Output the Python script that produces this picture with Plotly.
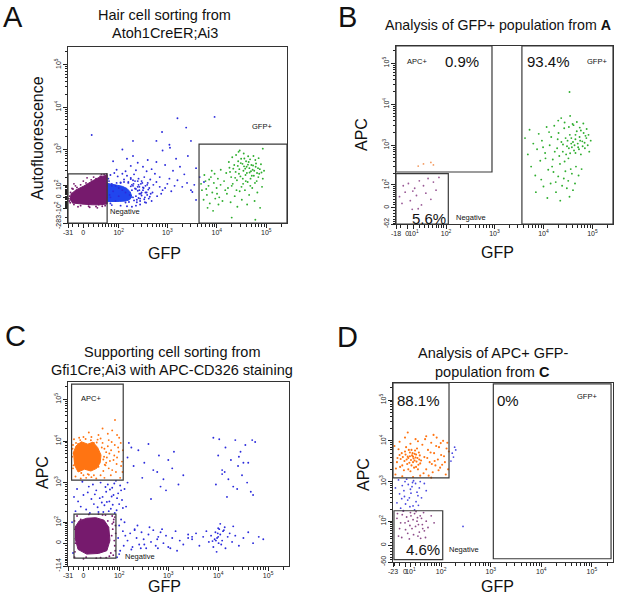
import numpy as np
import plotly.graph_objects as go

W, H = 617, 595
TOP = 262144  # top of the cytometer scale (2^18)

# ---------------- Panel A: hair cell sorting (GFP vs autofluorescence) ----------------
a_gate_neg_gfp = [-31, 54]
a_gate_neg_af = [-283, 246]
a_gate_pos_gfp = [4370, TOP]
a_gate_pos_af = [-283, 1350]

a_purple_core_gfp = [-26, -24, -14, 1, 17, 34, 54, 54, 34, 17, -4, -22]
a_purple_core_af = [-21, 28, 62, 98, 151, 202, 230, -55, -62, -62, -55, -46]
a_purple_gfp = [-28, -27, -25, -20, -12, -5, 5, 15, 25, 35, 45, 52, 48, 40, 25, 10, -5, -18, -26, -29,
                0, 10, 30, 20, -15, -8, 50, 53, 53, -22, 38, 12, -10, 28, 44, 7, -18, -24, 31]
a_purple_af = [-30, 10, 40, 70, 85, 110, 130, 165, 180, 210, 240, 245, -70, -75, -78, -75, -70, -60, -45, -10,
               150, 95, 150, 200, 100, 40, 180, 100, 0, 75, 235, -85, -80, -90, 150, 190, 120, -20, -60]

a_blue_core_gfp = [54, 70, 95, 120, 150, 175, 190, 170, 140, 105, 75, 54]
a_blue_core_af = [125, 118, 105, 95, 75, 45, 5, -20, -30, -33, -35, -35]
a_blue_gfp = [65, 80, 95, 120, 150, 180, 210, 260, 300, 340, 400, 450, 520, 600, 700, 800, 500, 420, 350, 280,
              230, 190, 150, 110, 70, 620, 750, 900, 1000, 1200, 1400, 560, 380, 230, 140, 90, 700, 480, 320, 180,
              1100, 1600, 2000, 2500, 3000, 3500, 2200, 1800, 1300, 900, 600, 400, 250, 1500, 2600, 800, 1100, 3000,
              4500, 5500, 3800, 9000, 1600, 200, 780, 1130, 3200, 3800, 200, 150, 120, 75,
              60, 70, 85, 100, 120, 140, 170, 200, 240, 270, 320, 360, 390, 430, 480, 110, 130, 160, 190, 220,
              250, 290, 75, 65, 85, 100, 16, 2400, 600,
              260, 300, 330, 280, 250, 310, 350, 230, 270, 380, 200, 180, 65, 70, 58, 62,
              210, 230, 250, 270, 290, 240, 220, 260, 200, 190, 300, 280, 320, 360, 340, 410, 440, 390, 370, 460,
              160, 180, 130, 110, 90, 140, 165, 205]
a_blue_af = [230, 260, 210, 250, 220, 190, 240, 180, 150, 200, 130, 170, 110, 140, 90, 60, 40, -10, -40, -60,
             -70, -80, -75, -70, -65, 10, 30, 80, 120, 50, 100, 250, 290, 310, 290, 320, 200, 330, 380, 400,
             180, 160, 90, 130, 60, 110, 240, 380, 300, 420, 500, 560, 480, 600, 700, 950, 1300, 1600,
             200, 140, 350, 5900, 5500, 1600, 2600, 1100, 44, -21, 700, 600, 1000, 520,
             150, 120, 100, 80, 60, 40, 20, 0, -20, 30, 60, 100, 20, 80, -30, 130, 170, 140, 110, 150,
             90, 120, 50, 0, -30, 10, 2200, 3300, 1600,
             110, 40, 80, -10, 150, 130, 0, 70, 60, 40, 160, 175, -50, 100, 180, 20,
             -25, 10, 55, 90, 30, -40, 75, -5, 100, 60, 15, -30, 85, 40, -15, 65, 5, 110, -45, 30,
             130, 95, 140, 135, 130, -42, -38, 120]

a_green_gfp = [5000, 5400, 5900, 6300, 6800, 7200, 7600, 8100, 8700, 9300, 9900, 10500, 11200, 11900, 5600, 6500,
               7900, 9000, 10800, 12000, 4800, 6100, 8400, 10100, 7000,
               14000, 15500, 16800, 18000, 19500, 21000, 22500, 24000, 25500, 27000, 28500, 30000, 31500, 33000,
               34500, 36000, 38000, 40000, 42000, 44000, 46000, 48000, 50000, 53000, 56000, 60000, 64000, 68000,
               72000, 78000, 85000, 90000,
               16000, 19000, 23000, 26000, 29000, 32000, 37000, 41000, 45000, 52000, 58000, 66000, 75000,
               17500, 20500, 24500, 27500, 31000, 35000, 39000, 43000, 47000, 55000, 62000, 70000,
               18500, 21500, 23500, 26500, 28000, 30500, 33500, 35500, 37500, 40500, 42500, 45500, 49000, 51000,
               54000, 57000, 61000, 65000, 69000, 74000, 80000,
               13000, 14800, 20000, 25000, 34000, 38500, 47500, 59000, 82000, 29000, 85000, 60000, 20000]
a_green_af = [60, -20, 150, 20, 100, -50, 200, 40, 130, -10, 80, 180, 0, 110, 230, -90,
              300, 250, -60, 320, 120, 70, -120, 30, 170,
              150, 260, 80, 360, 200, 120, 420, 280, 160, 520, 330, 210, 90, 450,
              300, 610, 230, 380, 140, 500, 270, 180, 420, 320, 220, 560, 150, 350,
              250, 440, 180, 300,
              30, -40, 10, -80, 50, -20, 60, -60, 20, 80, -30, 40, -90,
              500, 650, 740, 880, 600, 800, 520, 690, 580, 700, 460, 620,
              280, 340, 190, 400, 250, 470, 180, 390, 340, 260, 430, 350, 290, 220,
              410, 300, 380, 260, 200, 330, 270,
              -30, 60, 100, 60, 120, 150, 100, 130, 90, 950, 1050, -230, -200]

# ---------------- Panel B: analysis of the GFP+ population from A ----------------
b_gate_apc_gfp = [-18, 890]
b_gate_apc_apc = [220, TOP]
b_gate_neg_gfp = [-18, 112]
b_gate_neg_apc = [-62, 200]
b_gate_gfp_gfp = [3630, TOP]
b_gate_gfp_apc = [-62, TOP]

b_green_gfp = [4200, 4800, 5200, 5600, 6200, 6800, 7400, 8000, 8600, 9300, 10000, 10800, 11600, 12500, 13400,
               14400, 15500, 16600, 17800, 19000, 20300, 21700, 23200, 24800, 26500, 28300, 30200, 32300, 34500,
               36800, 39300, 42000, 44800, 47800, 51000, 54500, 58000, 62000, 66000, 70000, 75000, 80000, 86000,
               92000,
               18000, 22000, 26000, 30000, 34000, 38000, 14000, 20000, 24000, 28000, 32000, 40000, 46000, 52000,
               60000, 16000, 12000, 9000, 7000, 44000, 36000,
               20000, 27000, 33000, 41000, 48000, 55000, 65000, 35000, 23000,
               25000, 29000, 31000, 33000, 35000, 37000, 38000, 40000, 43000, 45000, 50000, 53000, 56000, 45000,
               63000, 69000, 72000, 27000, 21000, 17000, 19500, 15000, 11000, 9800, 13000, 58000, 76000, 83000,
               34000]
b_green_apc = [1500, 600, 2400, 300, 1100, 180, 800, 1900, 420, 1300, 90, 650, 2800, 250, 1000,
               1600, 450, 3000, 120, 850, 2000, 350, 1200, 700, 2600, 1500, 950, 480, 1800,
               1100, 3300, 750, 1400, 2200, 900, 1600, 600, 1250, 2000, 850, 1500, 1000, 700,
               1300,
               60, 25, 150, 80, 40, 200, 110, 170, 95, 230, 130, 70, 300, 180,
               260, 220, 35, 140, 60, 110, 260,
               4000, 3600, 2800, 3100, 3700, 2700, 3400, 5200, 4600,
               1050, 600, 1300, 850, 640, 1500, 900, 1200, 1000, 650, 1100, 800, 1300, 1800,
               950, 1150, 1700, 400, 550, 700, 1400, 300, 480, 900, 2100, 2300, 2500, 1800,
               19800]
b_purple_gfp = [-12, -8, -3, 2, 5, 8, 12, 15, 20, 24, 28, 33, 38, 45, 52, 60, 70, 18, 9, -6]
b_purple_apc = [40, 15, 60, 110, 25, -5, 80, 45, 130, 10, 95, 55, 150, 30, 120, 70, 160, -3, 65, 95]
b_orange_gfp = [28, 45, 18, 52]
b_orange_apc = [350, 380, 310, 330]

# ---------------- Panel C: supporting cell sorting (GFP vs APC-CD326) ----------------
c_gate_apc_gfp = [-23, 122]
c_gate_apc_apc = [1150, 234000]
c_gate_neg_gfp = [-18, 85]
c_gate_neg_apc = [-65, 168]

c_orange_core_gfp = [-20, -14, -4, 8, 18, 28, 36, 34, 26, 14, 2, -10, -18]
c_orange_core_apc = [5000, 7600, 9600, 8400, 9400, 7000, 4600, 3000, 2200, 1900, 2100, 1800, 2800]
c_orange_gfp = [50, 60, 70, 80, 90, 100, 110, 120, 55, 65, 75, 85, 95, 105, 115, 40, 30, 20, 10, 0, -10, -18,
                -20, -15, -5, 5, 15, 25, 35, 45, 58, 68, 78, 88, 98, 108, 118, 81, 70, 90,
                45, 52, 40, 48, 55, 42, 35, 30, -20, -22, -18, 0, 10, 20, -8, 15, 28, 62, 66, 58,
                -21, -19, -14, -6, 4, 14, 26, 38, 44, 46, 42, 50, 8, -4]
c_orange_apc = [3000, 5000, 2000, 8000, 4000, 12000, 2500, 6000, 15000, 1500, 3500, 1800, 7000, 1300, 3200,
                20000, 14000, 9000, 16000, 12500, 8500, 5000, 2200, 1400, 1250, 1300, 1350, 1250, 1500, 1300,
                2200, 9500, 4500, 2800, 5500, 9000, 1800, 32000, 18000, 14000,
                6500, 4000, 9000, 2600, 7500, 3600, 11500, 2400, 8000, 4200, 11000, 1500, 1550, 1500, 12000,
                12500, 10800, 3300, 6000, 10500,
                6500, 2600, 9000, 10500, 11200, 10400, 9200, 7000, 4200, 2700, 1900, 5400, 1600, 1700]

c_purple_core_gfp = [-16, -8, 6, 24, 44, 58, 62, 52, 30, 6, -10, -16]
c_purple_core_apc = [70, 110, 130, 135, 115, 70, 10, -30, -42, -45, -25, 20]
c_purple_gfp = [-17, -12, 0, 10, 25, 40, 60, 80, 84, 82, 75, -16, -15, 50, 70, 30, -5, 55, 65, 78,
                72, 76, 80, 68, 74, 83, 70, -17, -16, 5, 35, 48]
c_purple_apc = [-60, 150, -68, 165, -65, 160, -55, 140, 40, -30, 100, 60, 0, -62, 150, 168, 120, 110, -40, 10,
                60, 120, -10, 30, -50, 80, 90, 110, -35, -60, -62, 158]

c_blue_gfp = [-15, -10, -5, 0, 5, 10, 15, 20, 25, 30, 35, 40, 45, 50, 55, 60, 65, 70, 75, 80, 85, 90, 100, 110,
              120, -12, -2, 8, 18, 28, 38, 48, 58, 68, 78, 95, 105, 115, 130, 140, 150, -18, 12, 22, 42, 52, 62,
              72, 88, 33,
              95, 100, 105, 110, 120, 125, 130, 135, 90, 100,
              150, 170, 190, 210, 230, 260, 290, 320, 360, 400, 450, 500, 560, 630, 700, 800, 900, 1000, 1200,
              1400, 1700, 2000, 2500, 3000, 3600, 4200, 5000, 5800, 6500, 7200, 8000, 8800, 9500, 10200, 11000,
              12000, 13000, 14000, 15500, 17000, 19000, 22000, 26000, 32000, 40000, 50000, 65000, 80000, 9000,
              10000, 11500, 9800, 10500, 8500, 12500, 7700, 13500,
              180, 240, 330, 420, 620, 750, 1100, 1500, 9300, 11000, 10000, 20000, 3000, 600, 280, 210, 160,
              8000, 10000, 12000, 14000, 16000, 18000, 20000, 22000, 25000, 28000, 30000, 35000, 40000, 45000,
              50000, 12000, 9000, 15000, 24000, 32000, 10500, 13500, 26000, 38000, 55000, 48000,
              150, 200, 250, 330, 400, 500, 650, 800, 1000, 1300, 1600, 2000, 600, 300, 180, 900, 450, 700,
              1200, 2500,
              -20, -22, -19]
c_blue_apc = [200, 350, 260, 500, 220, 800, 400, 300, 650, 190, 1000, 450, 280, 600, 900, 350, 230, 750, 500,
              180, 1100, 420, 300, 650, 240, 700, 1050, 580, 900, 250, 330, 780, 200, 460, 950, 550, 850, 380,
              700, 260, 1000, 450, 180, 520, 190, 340, 680, 290, 210, 420,
              20, 80, -30, 120, 50, -10, 100, 30, -60, -45,
              10, 40, -15, 60, 20, -5, 45, 15, -20, 35, 5, 55, -10, 25, 45, 0, 30, -15, 20,
              50, 10, -5, 35, 15, 40, -10, 25, 50, 5, 30, -15, 45, 20, 0, 35,
              10, 55, -20, 25, 40, 5, 30, -10, 20, 45, 0, 25, 15, 10,
              25, -5, 40, 60, 15, 50, 8,
              70, -25, 80, -5, 70, -20, 60, -20, -30, -35, 90, 65, 75, 25, 15, -20, 55,
              9000, 12000, 4500, 2000, 7000, 1200, 3500, 800, 10500, 2500, 5500, 1500, 8000, 3000,
              600, 500, 1600, 900, 450, 700, 3000, 11000, 1800, 4200, 1000, 9500,
              10500, 4000, 2500, 6000, 3000, 8500, 2000, 4500, 1200, 3500, 5500, 900, 1500, 1800, 1300, 7000,
              650, 400, 800, 2200,
              20, -40, 100]

# ---------------- Panel D: analysis of the APC+ GFP- population from C ----------------
d_gate_apc_gfp = [-23, 146]
d_gate_apc_apc = [1230, TOP]
d_gate_neg_gfp = [-21, 108]
d_gate_neg_apc = [-50, 189]
d_gate_gfp_gfp = [1120, 240000]
d_gate_gfp_apc = [-46, 250000]

d_orange_gfp = [-15, -10, -5, 0, 3, 6, 9, 12, 15, 18, 21, 24, 27, 30, -12, -8, -2, 2, 5, 8, 11, 14, 17, 20, 23,
                26, 29, 32, -17, -6, -1, 4, 7, 10, 13, 16, 19, 22, 25, 28, -14, 1, -9, 6, 12, 18, -4, 9, 15, 21,
                35, 40, 45, 50, 55, 60, 65, 70, 75, 80, 85, 90, 95, 100, 110, 120, 130, 140, 145, 38, 42, 48,
                52, 58, 62, 68, 72, 78, 88, 98, 105, 115, 125, 135, -18, -20, -10, 0, 10, 20, 30, 25, -5, 15, 5,
                45, 60]
d_orange_apc = [3000, 4500, 2500, 5500, 3500, 2000, 4200, 6000, 3000, 4800, 2300, 3800, 5200, 2800, 6200, 3600,
                1900, 7000, 4100, 2900, 3400, 5000, 2200, 3900, 6500, 2600, 4400, 3300, 2100, 5000, 3200, 2700,
                6000, 1800, 4400, 3700, 5800, 3100, 2000, 3500, 3800, 4600, 2300, 3800, 2500, 3300, 4000, 5200,
                4100, 4600,
                8000, 4000, 2000, 6000, 3000, 9000, 1700, 5000, 2500, 12000, 3500, 7000, 2200, 4500, 10000, 3000,
                6500, 2000, 5500, 1600, 11000, 3800, 1400, 5200, 2700, 14000, 3200, 7500, 1900, 8800, 2600, 4200,
                1500, 9000, 1500, 7500, 9500, 12000, 8500, 11000, 1400, 9800, 1350, 1300, 16000, 13000, 1250]
d_blue_gfp = [-15, -10, -5, 0, 5, 10, 15, 20, 25, -12, -8, -2, 3, 8, 13, 18, 23, -18, -6, 1, 6, 11, 16, 21, 28,
              33, 40, -3, 9, 30, 45, 170, 190, 180, 200, 160, 280, 14, -1, 26]
d_blue_apc = [300, 500, 800, 1000, 350, 650, 250, 900, 450, 1100, 220, 600, 1150, 400, 750, 200, 550, 700, 380,
              280, 850, 520, 1050, 320, 700, 400, 900, 190, 240, 1000, 600, 5000, 7000, 4000, 6000, 3200, 70,
              950, 430, 260]
d_purple_gfp = [-15, -10, -5, 0, 5, 10, 15, 20, 25, 30, 35, 40, 45, -12, -3, 3, 8, 13, 18, 23, 28, 33, 38, -8,
                1, 6, 11, 16, 21, 26, 43, -6, 50, 60, 70, 9, 24, 31, -14, 36]
d_purple_apc = [120, 60, 150, 90, 40, 170, 110, 70, 30, 140, 80, 50, 100, 30, 185, 130, 20, 60, 160, 100, 45,
                120, 170, 90, 55, 100, 140, 35, 180, 80, 25, 25, 65, 140, 90, 75, 125, 22, 160, 60]

# tick labels shared by the panels
DEC = [100, 1000, 10000, 100000]
DEC_TXT = ['10<sup>2</sup>', '10<sup>3</sup>', '10<sup>4</sup>', '10<sup>5</sup>']

PURPLE = '#761a6d'
BLUE = '#2b2bdc'
BLUE_CORE = '#2146ee'
GREEN = '#2fae2f'
ORANGE = '#ff7412'
GATE = '#3a3a3a'
FONT = 'Arial, Liberation Sans, sans-serif'


def T(v, c):
    # biexponential-like display scale (arcsinh)
    return np.arcsinh(np.asarray(v, dtype=float) / c)


def fx(p):
    return p / W


def fy(p):
    return 1 - p / H


minor_all = sorted(set([k * 10 ** e for e in range(1, 6) for k in range(1, 10)] +
                       [-k * 10 ** e for e in (1, 2) for k in range(1, 10)]))


def make_axis(c, vmin, dom, vals, texts, anchor, vertical):
    minors = [m for m in minor_all if vmin < m < TOP and m not in vals]
    return dict(domain=dom, anchor=anchor, range=[float(T(vmin, c)), float(T(TOP, c))],
                automargin=False,
                tickmode='array', tickvals=T(vals, c), ticktext=texts,
                ticks='outside', ticklen=4, tickwidth=1, tickcolor='#222',
                ticklabelstandoff=-1,
                showline=True, mirror=True, linecolor='#333', linewidth=1,
                showgrid=False, zeroline=False, fixedrange=True,
                tickangle=-90 if vertical else 0,
                tickfont=dict(size=7, family=FONT, color='#222'),
                minor=dict(tickmode='array', tickvals=T(minors, c), ticks='outside', ticklen=2.5,
                           tickwidth=1, tickcolor='#222', showgrid=False))


# panel setup: axis ids, scale cofactors, lower ends and pixel boxes
P = {
    'A': dict(xa='x', ya='y', cx=40, cy=150, xmin=-31, ymin=-283, box=(68, 287, 47, 223)),
    'B': dict(xa='x2', ya='y2', cx=33, cy=60, xmin=-18, ymin=-62, box=(396, 613, 46, 224)),
    'C': dict(xa='x3', ya='y3', cx=40, cy=70, xmin=-31, ymin=-114, box=(68, 289, 382, 566)),
    'D': dict(xa='x4', ya='y4', cx=40, cy=55, xmin=-23, ymin=-60, box=(393, 613, 383, 562)),
}

fig = go.Figure()


def cloud(panel, gx, gy, color, size=1.9, core=False):
    p = P[panel]
    if core:
        fig.add_trace(go.Scatter(x=T(gx, p['cx']), y=T(gy, p['cy']), mode='lines', fill='toself',
                                 fillcolor=color, line=dict(color=color, width=1),
                                 xaxis=p['xa'], yaxis=p['ya'], hoverinfo='skip'))
    else:
        fig.add_trace(go.Scatter(x=T(gx, p['cx']), y=T(gy, p['cy']), mode='markers',
                                 marker=dict(color=color, size=size, line=dict(width=0)),
                                 xaxis=p['xa'], yaxis=p['ya']))


def gate(panel, gx, gy):
    p = P[panel]
    fig.add_shape(type='rect', xref=p['xa'], yref=p['ya'],
                  x0=float(T(gx[0], p['cx'])), x1=float(T(gx[1], p['cx'])),
                  y0=float(T(gy[0], p['cy'])), y1=float(T(gy[1], p['cy'])),
                  line=dict(color=GATE, width=1.2), fillcolor='rgba(0,0,0,0)', layer='above')


# panel A
cloud('A', a_blue_core_gfp, a_blue_core_af, BLUE_CORE, core=True)
cloud('A', a_blue_gfp, a_blue_af, BLUE)
cloud('A', a_purple_core_gfp, a_purple_core_af, PURPLE, core=True)
cloud('A', a_purple_gfp, a_purple_af, PURPLE)
cloud('A', a_green_gfp, a_green_af, GREEN)
gate('A', a_gate_neg_gfp, a_gate_neg_af)
gate('A', a_gate_pos_gfp, a_gate_pos_af)

# panel B
cloud('B', b_green_gfp, b_green_apc, GREEN)
cloud('B', b_purple_gfp, b_purple_apc, '#9a5a96', size=1.8)
cloud('B', b_orange_gfp, b_orange_apc, '#f39a60', size=1.8)
gate('B', b_gate_apc_gfp, b_gate_apc_apc)
gate('B', b_gate_neg_gfp, b_gate_neg_apc)
gate('B', b_gate_gfp_gfp, b_gate_gfp_apc)

# panel C
cloud('C', c_blue_gfp, c_blue_apc, BLUE)
cloud('C', c_purple_core_gfp, c_purple_core_apc, PURPLE, core=True)
cloud('C', c_purple_gfp, c_purple_apc, PURPLE)
cloud('C', c_orange_core_gfp, c_orange_core_apc, ORANGE, core=True)
cloud('C', c_orange_gfp, c_orange_apc, ORANGE)
gate('C', c_gate_apc_gfp, c_gate_apc_apc)
gate('C', c_gate_neg_gfp, c_gate_neg_apc)

# panel D
cloud('D', d_blue_gfp, d_blue_apc, '#4a4ae0', size=1.8)
cloud('D', d_purple_gfp, d_purple_apc, '#8c4a88', size=1.8)
cloud('D', d_orange_gfp, d_orange_apc, ORANGE, size=2.1)
gate('D', d_gate_apc_gfp, d_gate_apc_apc)
gate('D', d_gate_neg_gfp, d_gate_neg_apc)
gate('D', d_gate_gfp_gfp, d_gate_gfp_apc)

# axes
ticks = {
    'A': ([-31, 0] + DEC, ['-31', '0'] + DEC_TXT, [-283, -100, 0] + DEC, ['-283', '-10<sup>2</sup>', '0'] + DEC_TXT),
    'B': ([-18, 0, 10] + DEC, ['-18', '0', '10<sup>1</sup>'] + DEC_TXT, [-62, 0] + DEC, ['-62', '0'] + DEC_TXT),
    'C': ([-31, 0] + DEC, ['-31', '0'] + DEC_TXT, [-114, 0] + DEC, ['-114', '0'] + DEC_TXT),
    'D': ([-23, 0, 10] + DEC, ['-23', '0', '10<sup>1</sup>'] + DEC_TXT, [-60, 0] + DEC, ['-60', '0'] + DEC_TXT),
}
layout_axes = {}
for k, p in P.items():
    l, r, t, b = p['box']
    xv, xt, yv, yt = ticks[k]
    xname = 'xaxis' + p['xa'][1:]
    yname = 'yaxis' + p['ya'][1:]
    layout_axes[xname] = make_axis(p['cx'], p['xmin'], [fx(l), fx(r)], xv, xt, p['ya'], False)
    layout_axes[yname] = make_axis(p['cy'], p['ymin'], [fy(b), fy(t)], yv, yt, p['xa'], True)


def label(text, x, y, size, angle=0, color='#111'):
    return dict(text=text, x=fx(x), y=fy(y), xref='paper', yref='paper', showarrow=False,
                xanchor='center', yanchor='middle', textangle=angle,
                font=dict(size=size, family=FONT, color=color))


ann = [
    # panel letters
    label('A', 13, 17, 29), label('B', 348, 17, 29), label('C', 15, 336, 29), label('D', 348, 337, 29),
    # titles
    label('Hair cell sorting from', 165, 15, 14.5), label('Atoh1CreER;Ai3', 165, 33, 14.5),
    label('Analysis of GFP+ population from <b>A</b>', 498, 25, 14.2),
    label('Supporting cell sorting from', 172, 352, 14.5),
    label('Gfi1Cre;Ai3 with APC-CD326 staining', 172, 370, 14.5),
    label('Analysis of APC+ GFP-', 493, 353, 14.5), label('population from <b>C</b>', 493, 372, 14.5),
    # axis titles
    label('GFP', 165, 253, 16), label('Autofluorescence', 37, 138, 16, angle=-90),
    label('GFP', 497, 252, 16), label('APC', 362, 135, 16, angle=-90),
    label('GFP', 165, 586, 16), label('APC', 43, 473, 16, angle=-90),
    label('GFP', 497, 586, 16), label('APC', 363, 475, 16, angle=-90),
    # gate names and percentages
    label('GFP+', 262, 126, 7.5), label('Negative', 125, 211, 7.5),
    label('APC+', 417, 62, 7.5), label('0.9%', 462, 62, 15), label('93.4%', 548, 62, 15),
    label('GFP+', 597, 62, 7.5), label('5.6%', 429, 218, 15), label('Negative', 471, 217, 7.5),
    label('APC+', 91, 398, 7.5), label('Negative', 140, 556, 7.5),
    label('88.1%', 418, 400, 15), label('0%', 508, 400, 15), label('GFP+', 587, 396, 7.5),
    label('4.6%', 423, 549, 15), label('Negative', 464, 549, 7.5),
]

fig.update_layout(template='none', width=W, height=H, margin=dict(l=0, r=0, t=0, b=0),
                  paper_bgcolor='white', plot_bgcolor='white', showlegend=False,
                  annotations=ann, **layout_axes)

# the page body has a default margin; remove it so the figure sits at the window corner
fig.write_html("out.html", config={'displayModeBar': False},
               post_script="document.body.style.margin='0';document.body.style.overflow='hidden';")
